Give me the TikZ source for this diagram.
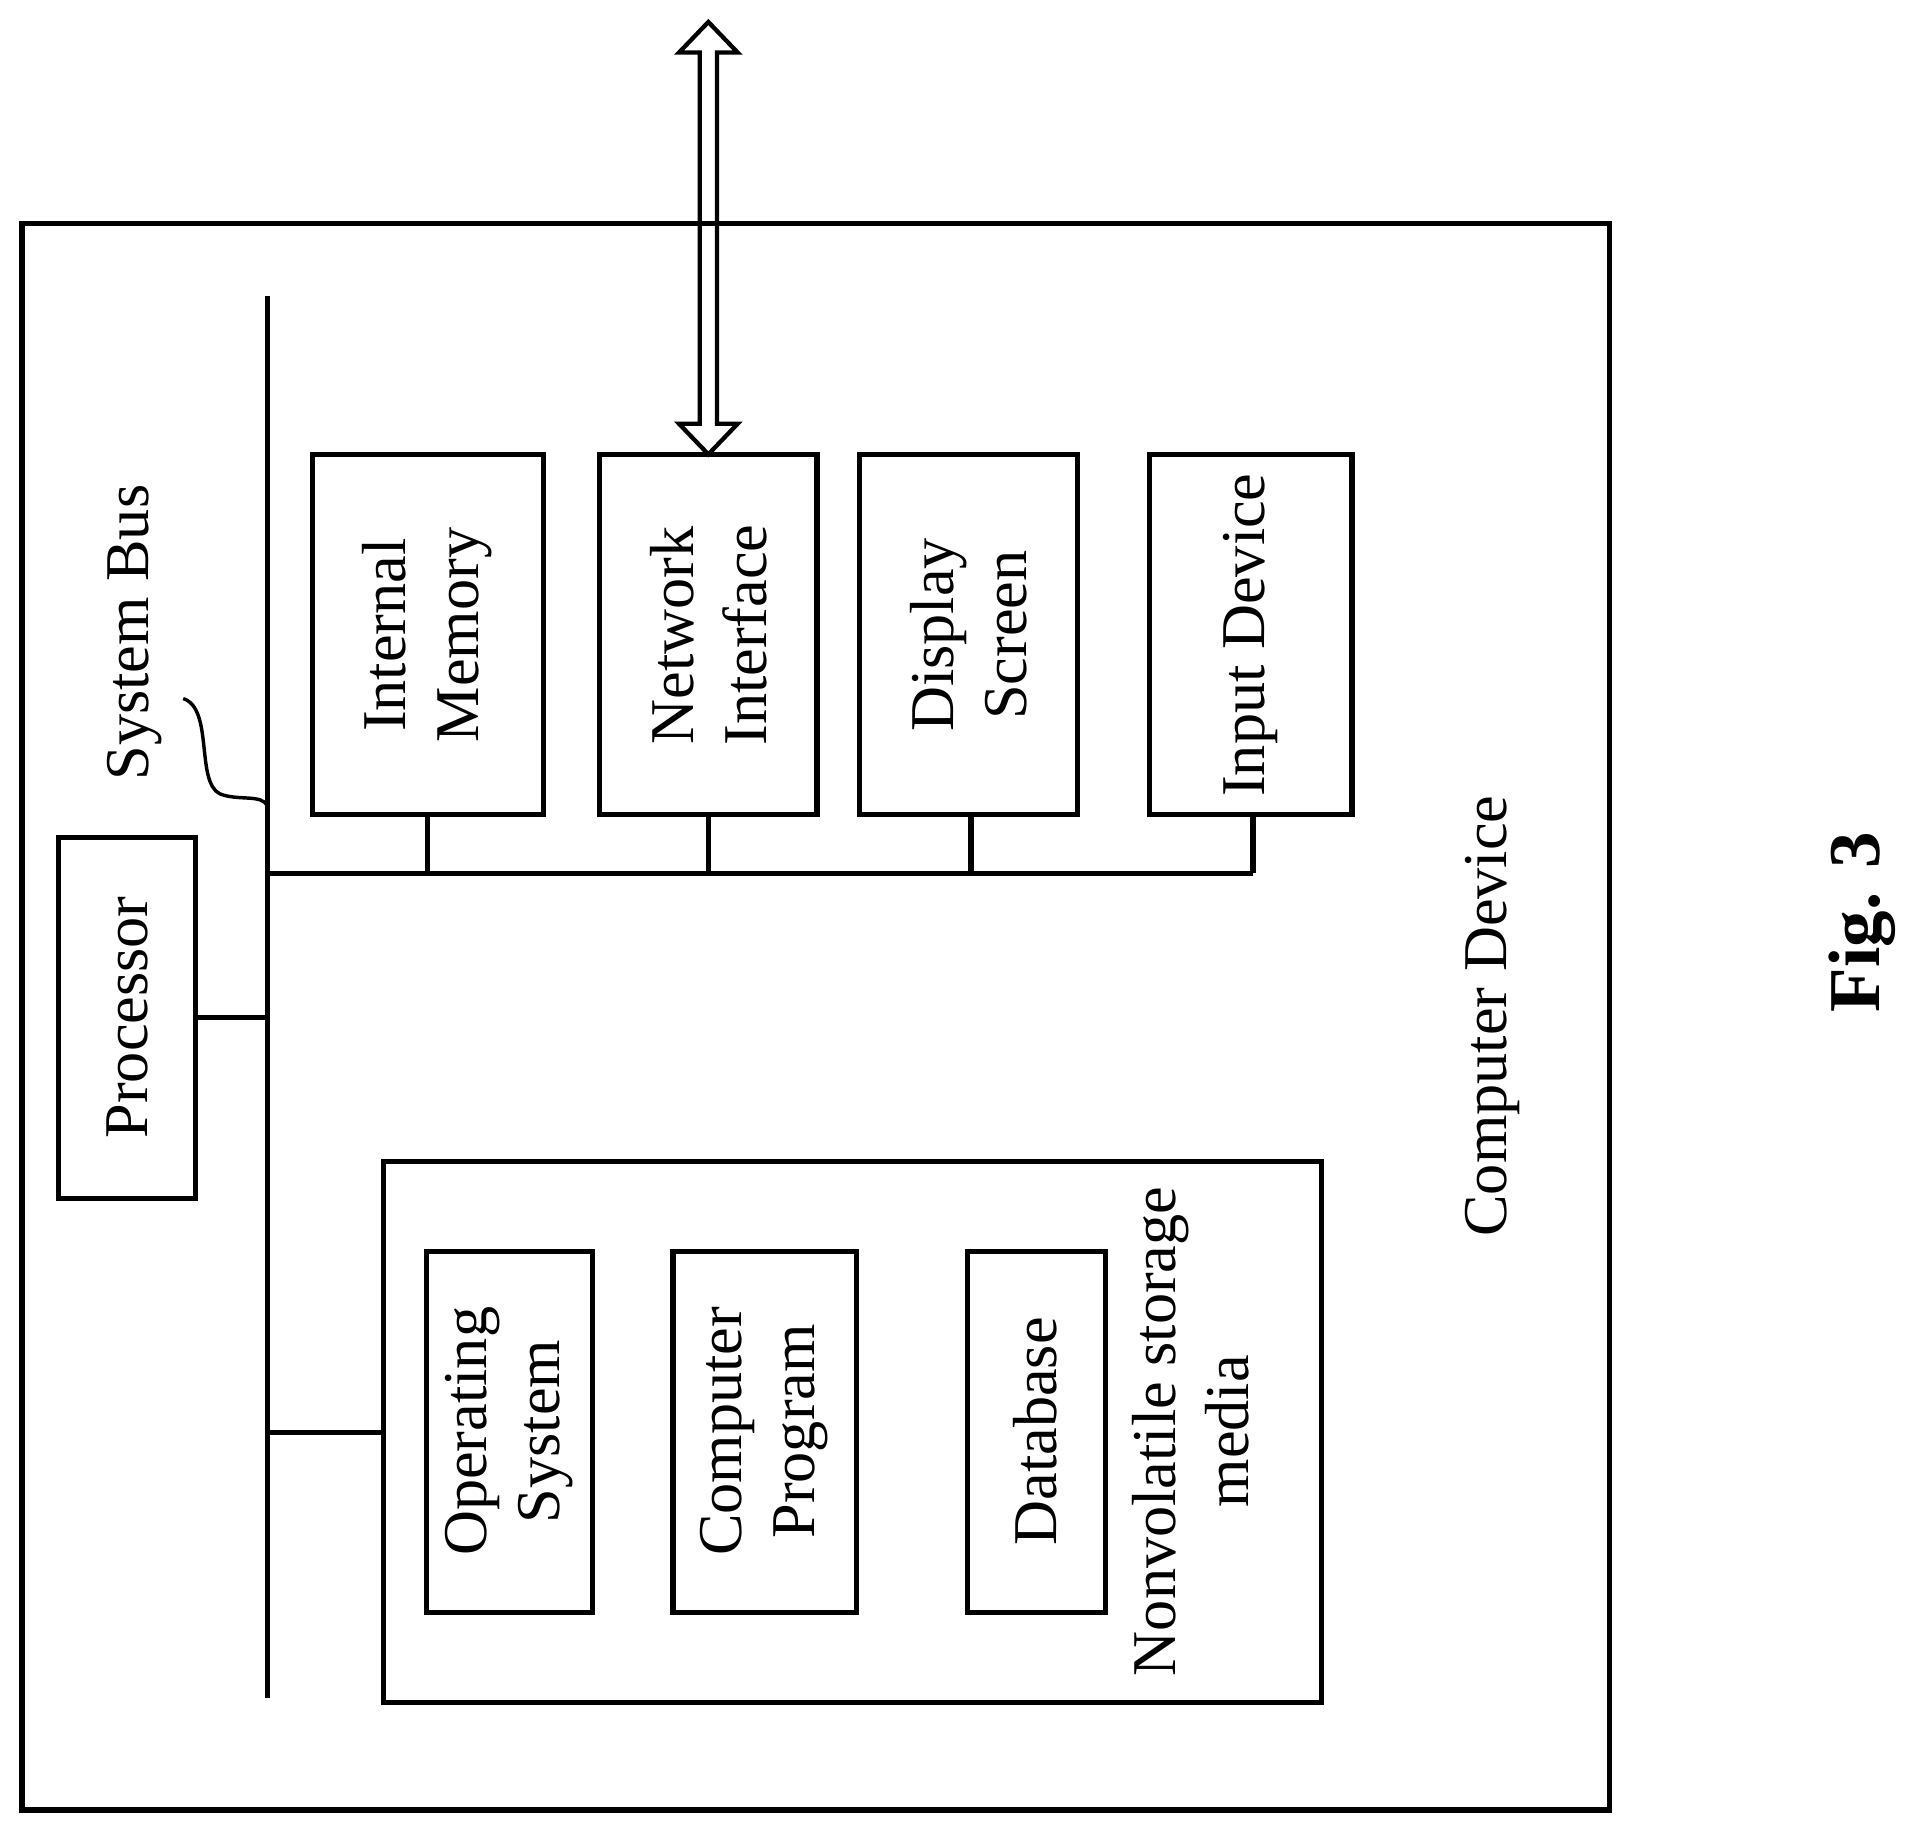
\documentclass[tikz,border=0pt]{standalone}
\usepackage{fontspec}
\setmainfont{Liberation Serif}
\usetikzlibrary{positioning}
\begin{document}
\begin{tikzpicture}[x=0.01cm,y=-0.01cm,line width=1.2pt,
    box/.style={draw,minimum width=#1},
    lbl/.style={rotate=90,align=center,font=\fontsize{14.5}{17}\selectfont}]
    \useasboundingbox (0,0) rectangle (1568,1503);
    % outer frame
    \draw (18,183) rectangle (1318,1482);
    \node [lbl] (dev) at (1222,832) {Computer Device};
    \node [rotate=90,font=\fontsize{17}{20}\selectfont\bfseries] (fig) at (1525,755) {Fig. 3};

    % system bus
    \coordinate (bt) at (219,242);
    \coordinate (bb) at (219,1390);
    \draw (bt) -- (bb);
    \node [lbl] (buslbl) at (110,518) {System Bus};
    \draw [line width=0.8pt] (150,572) .. controls (175,580) and (160,640) .. (180,650) .. controls (195,656) and (215,650) .. (219,660);

    % processor
    \draw (48,686) rectangle (160,981);
    \node [lbl] (cpu) at (104,833) {Processor};
    \draw (160,833) -- (219,833);

    % upper row
    \draw (256,372) rectangle (445,667);
    \node [lbl] (mem) at (350,520) {Internal\\Memory};
    \draw (491,372) rectangle (669,667);
    \node [lbl] (net) at (580,520) {Network\\Interface};
    \draw (704,372) rectangle (882,667);
    \node [lbl] (disp) at (793,520) {Display\\Screen};
    \draw (941,372) rectangle (1107,667);
    \node [lbl] (inp) at (1024,520) {Input Device};
    \draw (219,715) -- (1026,715);
    \foreach \x in {350,580,795,1026}
        \draw (\x,667) -- (\x,715);

    % network arrow
    \draw [line width=1pt] (580,18) -- (604,43) -- (587,43) -- (587,347) -- (604,347)
        -- (580,372) -- (556,347) -- (573,347) -- (573,43) -- (556,43) -- cycle;

    % storage
    \draw (314,951) rectangle (1082,1394);
    \draw (219,1173) -- (314,1173);
    \draw (349,1025) rectangle (485,1320);
    \node [lbl] (os) at (417,1172) {Operating\\System};
    \draw (551,1025) rectangle (701,1320);
    \node [lbl] (prog) at (626,1172) {Computer\\Program};
    \draw (792,1025) rectangle (905,1320);
    \node [lbl] (db) at (848,1172) {Database};
    \node [lbl] (nv) at (975,1172) {Nonvolatile storage\\media};
\end{tikzpicture}
\end{document}
